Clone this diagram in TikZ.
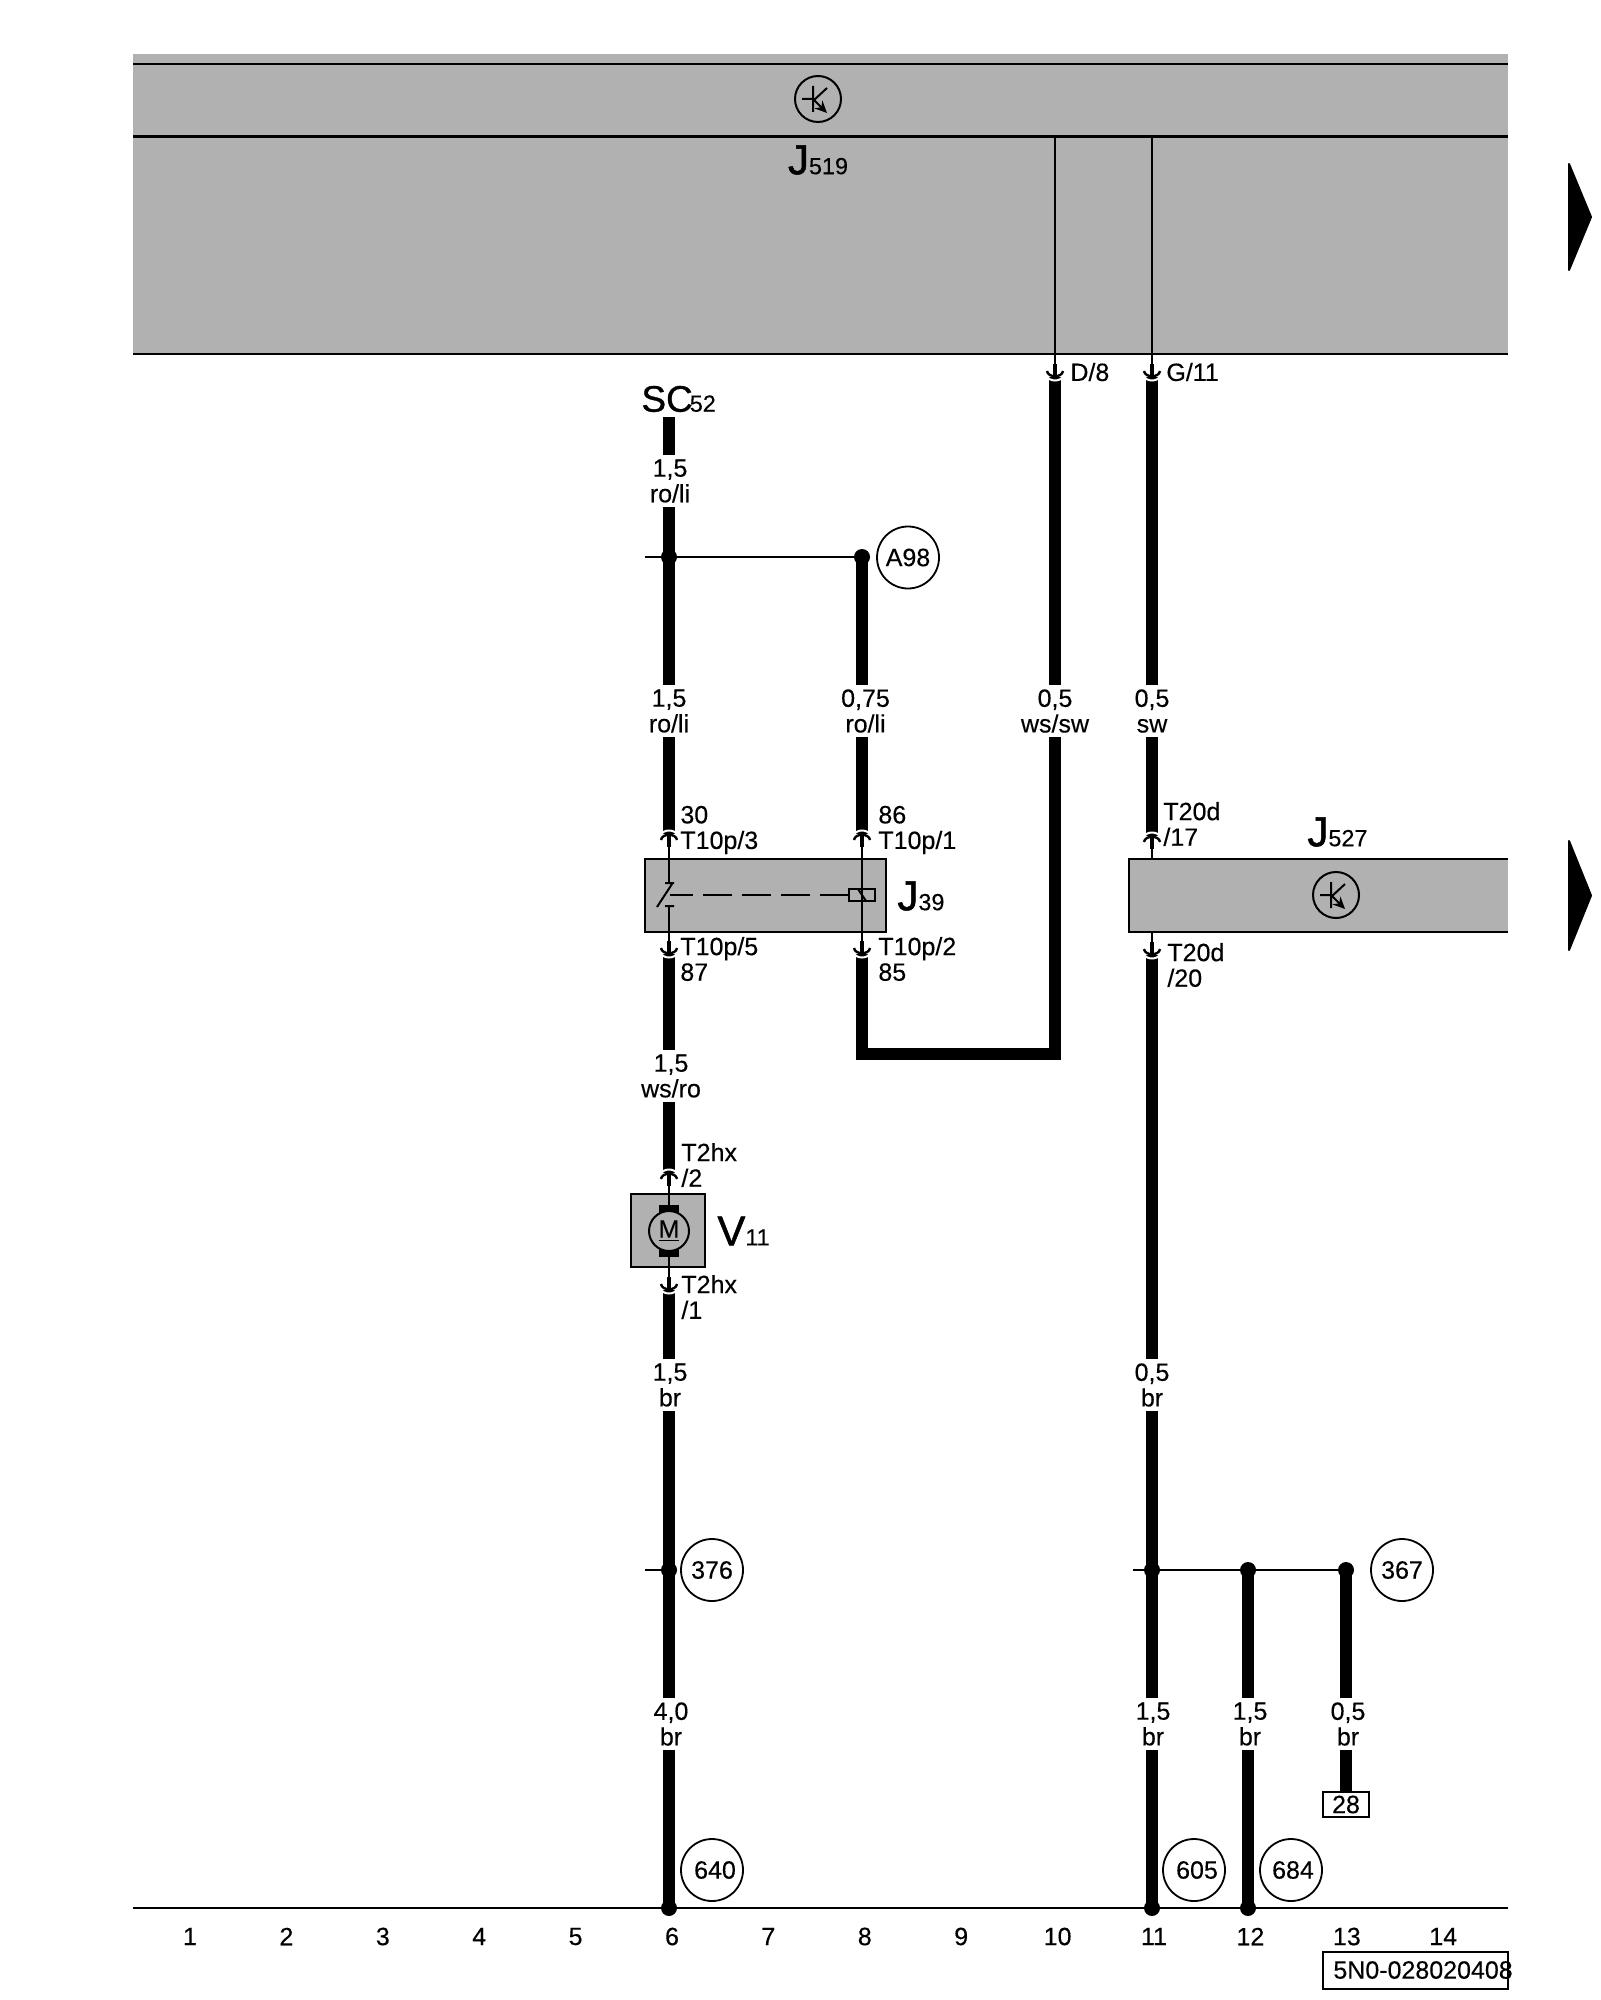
\documentclass[tikz,border=0pt]{standalone}
\usepackage{fontspec}
\setmainfont[FakeBold=0.3]{Liberation Sans}
\usetikzlibrary{arrows.meta}
\definecolor{unitgray}{HTML}{B1B1B1}
\newcommand{\bigsub}[2]{{\fontsize{21}{21}\selectfont\addfontfeature{FakeBold=1.2}#1}{\fontsize{11.7}{12}\selectfont #2}}
\tikzset{
  every node/.style={font=\fontsize{12.5}{12.8}\selectfont,text=black},
  wire/.style={line width=5.6pt},
  thin wire/.style={line width=1pt},
  wlabel/.style={fill=white,align=center,inner xsep=0pt,inner ysep=0pt,minimum height=26pt},
  pinlabel/.style={anchor=west,align=left,inner sep=0pt},
  mark label/.style={anchor=west,inner sep=0pt},
  dot/.style={circle,fill=black,inner sep=0pt,minimum size=8pt},
  refcircle/.style={circle,draw,line width=0.9pt,inner sep=0pt,minimum size=31pt},
  unit/.style={draw,line width=1pt,fill=unitgray,inner sep=0pt},
  pinup/.pic={
    \draw[white,line width=1pt] (-8,1) .. controls (-6,-5) and (6,-5) .. (8,1);
    \draw[line width=1.2pt] (-8,6) .. controls (-7,-1) and (7,-1) .. (8,6);
    \draw[line width=2pt] (0,2) -- (0,13);
  },
  transistor/.pic={
    \node[circle,draw,line width=1pt,minimum size=23pt,inner sep=0pt] (-ring) at (0,0) {};
    \draw[line width=1pt] (-16,0) -- (-5,0) (-5,-13) -- (-5,13) (-5,2) -- (9,-11);
    \draw[line width=1pt,-{Stealth[length=6pt,width=5.5pt]}] (-5,0) -- (9,14);
  }
}
\begin{document}
\begin{tikzpicture}[x=0.5pt,y=-0.5pt]
  \useasboundingbox (0,0) rectangle (1600,2000);

  \fill[unitgray] (133,54) rectangle (1508,354);
  \draw[line width=1.3pt] (133,64) -- (1508,64) (133,136.5) -- (1508,136.5) (133,354) -- (1508,354);
  \pic (tone) at (818,99) {transistor};
  \node (j519) at (818,160) {\bigsub{J}{519}};
  \fill[line join=round,draw,line width=1pt] (1569,164) -- (1591,217) -- (1569,270) -- cycle;

  \node[unit,minimum width=120.5pt,minimum height=36.5pt] (j39) at (765.5,895.5) {};
  \node[mark label] (j39t) at (897,896) {\bigsub{J}{39}};
  \path[fill=unitgray,draw=black,line width=1pt] (1508,859) -- (1129,859) -- (1129,932) -- (1508,932);
  \pic (ttwo) at (1336,895) {transistor};
  \node[mark label] (j527) at (1307,832) {\bigsub{J}{527}};
  \fill[line join=round,draw,line width=1pt] (1569,841) -- (1591,895.5) -- (1569,950) -- cycle;

  \coordinate (c6t) at (669,417);
  \coordinate (c6pa) at (669,834);
  \coordinate (c6pb) at (669,954);
  \coordinate (c6pc) at (669,1173);
  \coordinate (c6pd) at (669,1290);
  \coordinate (c6b) at (669,1908);
  \coordinate (c8t) at (862,557);
  \coordinate (c8pa) at (862,834);
  \coordinate (c8pb) at (862,954);
  \coordinate (cor) at (1055,1054);
  \coordinate (cl) at (862,1054);
  \coordinate (c10a) at (1055,136.5);
  \coordinate (c10p) at (1055,377);
  \coordinate (c11a) at (1152,136.5);
  \coordinate (c11p) at (1152,377);
  \coordinate (c11pa) at (1152,836);
  \coordinate (c11pb) at (1152,955);
  \coordinate (c11b) at (1152,1908);
  \coordinate (c12t) at (1248,1570);
  \coordinate (c12b) at (1248,1908);
  \coordinate (c13t) at (1346,1570);
  \coordinate (lfa) at (645,557);
  \coordinate (lfb) at (645,1570);
  \coordinate (lfc) at (1133,1570);
  \coordinate (raila) at (133,1908);
  \coordinate (railb) at (1508,1908);

  \node[draw,line width=0.8pt,minimum width=23pt,minimum height=12.5pt,inner sep=0pt] (sh) at (1346,1804.5) {28};

  \draw[thin wire] (lfa) -- (c8t);
  \draw[thin wire] (lfb) -- (c6t |- lfb);
  \draw[thin wire] (lfc) -- (c13t);
  \draw[line width=1.1pt] (raila) -- (railb);
  \draw[thin wire] (c10a) -- (c10p);
  \draw[thin wire] (c11a) -- (c11p);
  \draw[thin wire] (c11pa) -- ++(0,23) (c11pb) -- ++(0,-23);
  \draw[thin wire] (c8pa) -- (c8pb);
  \draw[thin wire] (c6pa) -- ++(0,49) (c6pb) -- ++(0,-48);

  \draw[wire] (c6t) -- (c6pa);
  \draw[wire] (c6pb) -- (c6pc);
  \draw[wire] (c6pd) -- (c6b);
  \draw[wire] (c8t) -- (c8pa);
  \draw[wire] (c8pb) -- (cl) -- (cor) -- (c10p);
  \draw[wire] (c11p) -- (c11pa);
  \draw[wire] (c11pb) -- (c11b);
  \draw[wire] (c12t) -- (c12b);
  \draw[wire] (c13t) -- (sh.north);

  \pic at (c6pa) {pinup};
  \pic at (c8pa) {pinup};
  \pic at (c11pa) {pinup};
  \pic at (c6pc) {pinup};
  \pic[yscale=-1] at (c6pb) {pinup};
  \pic[yscale=-1] at (c8pb) {pinup};
  \pic[yscale=-1] at (c11pb) {pinup};
  \pic[yscale=-1] at (c6pd) {pinup};
  \pic[yscale=-1] at (c10p) {pinup};
  \pic[yscale=-1] at (c11p) {pinup};

  \draw[thin wire] (665,883) -- (674,883) (657,907) -- (672,884) (665,906) -- (674,906);
  \draw[thin wire,dash pattern=on 14.5pt off 5pt,dash phase=3pt] (670,895) -- (849,895);
  \node[draw,line width=1pt,fill=unitgray,minimum width=13pt,minimum height=6pt,inner sep=0pt] (coil) at (862,895) {};
  \draw[thin wire] (c8pa) -- (c8pb);
  \draw[thin wire] (858,889) -- (866,901);

  \node[unit,minimum width=37pt,minimum height=36.5pt] (v11) at (668,1230.5) {};
  \draw[thin wire] (c6pc) -- ++(0,32);
  \draw[thin wire] (c6pd) -- ++(0,-33);
  \fill (659,1205) rectangle (679,1257);
  \node[circle,draw,line width=1pt,fill=unitgray,minimum size=20pt,inner sep=0pt] (motor) at (669,1231) {\underline{M}};
  \node[mark label] (v11t) at (717,1231) {\bigsub{V}{11}};

  \node[wlabel] (la) at (670,481) {1,5\\ro/li};
  \node[wlabel] (lb) at (669,711) {1,5\\ro/li};
  \node[wlabel] (lc) at (865.5,711) {0,75\\ro/li};
  \node[wlabel] (ld) at (1055,711) {0,5\\ws/sw};
  \node[wlabel] (le) at (1152,711) {0,5\\sw};
  \node[wlabel] (lf) at (671,1076) {1,5\\ws/ro};
  \node[wlabel] (lg) at (670,1385) {1,5\\br};
  \node[wlabel] (lh) at (1152,1385) {0,5\\br};
  \node[wlabel] (li) at (671,1724) {4,0\\br};
  \node[wlabel] (lj) at (1153,1724) {1,5\\br};
  \node[wlabel] (lk) at (1250,1724) {1,5\\br};
  \node[wlabel] (ll) at (1348,1724) {0,5\\br};

  \node[mark label] (sc) at (641,399) {{\fontsize{18.5}{19}\selectfont\addfontfeature{FakeBold=0.8}SC}\kern-1.5pt{\fontsize{11.7}{12}\selectfont 52}};
  \node[pinlabel] (d8) at (1070,372) {D/8};
  \node[pinlabel] (g11) at (1166,372) {G/11};
  \node[pinlabel] (pa) at (680,830) {30\\T10p/3};
  \node[pinlabel] (pb) at (878,830) {86\\T10p/1};
  \node[pinlabel] (pc) at (680,959) {T10p/5\\87};
  \node[pinlabel] (pd) at (878,959) {T10p/2\\85};
  \node[pinlabel] (pe) at (681,1165) {T2hx\\/2};
  \node[pinlabel] (pf) at (681,1297) {T2hx\\/1};
  \node[pinlabel] (pg) at (1163,824) {T20d\\/17};
  \node[pinlabel] (ph) at (1167,965) {T20d\\/20};

  \node[dot] (ja) at (c6t |- c8t) {};
  \node[dot] (jb) at (c8t) {};
  \node[dot] (jc) at (c6t |- lfb) {};
  \node[dot] (jd) at (c11b |- lfc) {};
  \node[dot] (je) at (c12t) {};
  \node[dot] (jf) at (c13t) {};
  \node[dot] (jg) at (c6b) {};
  \node[dot] (jh) at (c11b) {};
  \node[dot] (ji) at (c12b) {};

  \node[refcircle] (ra) at (908,557.5) {A98};
  \node[refcircle] (rb) at (712,1570) {376};
  \node[refcircle] (rc) at (1402,1570) {367};
  \node[refcircle] (rd) at (712,1870) {\hspace{3pt}640};
  \node[refcircle] (re) at (1194,1870) {\hspace{3pt}605};
  \node[refcircle] (rf) at (1291,1870) {\hspace{2pt}684};

  \foreach \i in {1,...,14}
    \node (n\i) at ({190+96.4*(\i-1)},1936.5) {\i};

  \node[draw,line width=0.8pt,minimum width=92.5pt,minimum height=18.5pt,inner sep=0pt] (idbox) at (1415.5,1970.5) {};
  \node[mark label,font=\fontsize{12.5}{13}\selectfont] (idtext) at (1333,1970) {5N0-028020408};
\end{tikzpicture}
\end{document}
